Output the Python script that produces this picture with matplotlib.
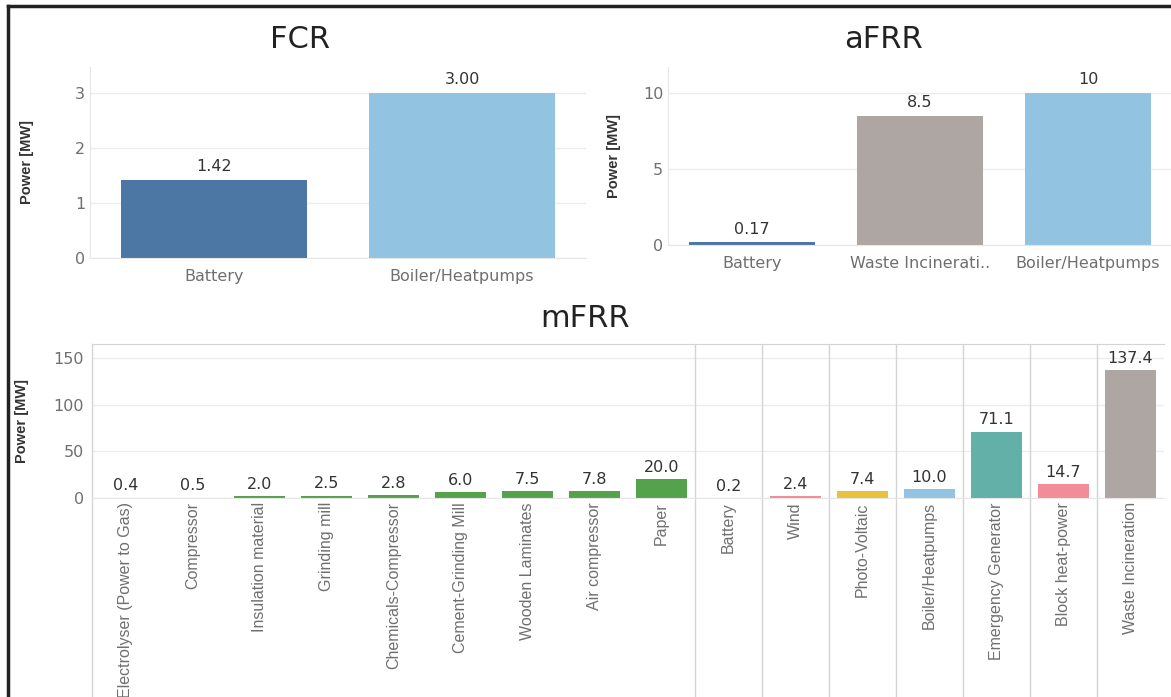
import matplotlib
matplotlib.use("Agg")
import matplotlib.pyplot as plt
from matplotlib.lines import Line2D

# data
fcr_labels = ["Battery", "Boiler/Heatpumps"]
fcr_values = [1.42, 3.00]
fcr_text = ["1.42", "3.00"]

afrr_labels = ["Battery", "Waste Incinerati..", "Boiler/Heatpumps"]
afrr_values = [0.17, 8.5, 10]
afrr_text = ["0.17", "8.5", "10"]

mfrr_labels = ["Electrolyser (Power to Gas)", "Compressor", "Insulation material",
               "Grinding mill", "Chemicals-Compressor", "Cement-Grinding Mill",
               "Wooden Laminates", "Air compressor", "Paper", "Battery", "Wind",
               "Photo-Voltaic", "Boiler/Heatpumps", "Emergency Generator",
               "Block heat-power", "Waste Incineration"]
mfrr_values = [0.4, 0.5, 2.0, 2.5, 2.8, 6.0, 7.5, 7.8, 20.0,
               0.2, 2.4, 7.4, 10.0, 71.1, 14.7, 137.4]

# colours
blue = "#4c77a4"
light_blue = "#92c3e1"
grey = "#aea6a2"
green = "#55a24c"
pink = "#f38c99"
yellow = "#e9c23d"
teal = "#62b0a7"

fcr_colors = [blue, light_blue]
afrr_colors = [blue, grey, light_blue]
mfrr_colors = [green] * 9 + [blue, pink, yellow, light_blue, teal, pink, grey]

narrow = ["Liberation Sans", "DejaVu Sans"]
tick_grey = "#6f6f6f"
grid_col = "#ececec"
line_col = "#d4d4d4"

W, H = 1171, 697
fig = plt.figure(figsize=(W / 100, H / 100), dpi=100)


def box(left, top, right, bottom):
    return [left / W, 1 - bottom / H, (right - left) / W, (bottom - top) / H]


def style(ax, ymax, yticks, label_x):
    ax.set_ylim(0, ymax)
    ax.set_yticks(yticks)
    ax.grid(axis="y", color=grid_col, linewidth=1)
    ax.set_axisbelow(True)
    for s in ["top", "right"]:
        ax.spines[s].set_visible(False)
    ax.spines["left"].set_color("#e6e6e6")
    ax.spines["bottom"].set_color("#e6e6e6")
    ax.tick_params(length=0, colors=tick_grey, labelsize=11.5)
    ax.set_ylabel("Power [MW]", family=narrow, fontweight="bold", fontsize=10.5, color="#333333")
    pos = ax.get_position()
    ax.yaxis.set_label_coords((label_x / W - pos.x0) / pos.width, 0.5)


# FCR
ax1 = fig.add_axes(box(90, 67, 586, 258))
x = range(len(fcr_values))
ax1.bar(x, fcr_values, width=0.75, color=fcr_colors)
ax1.set_xlim(-0.5, len(fcr_values) - 0.5)
ax1.set_xticks(list(x), fcr_labels)
style(ax1, 3.47, [0, 1, 2, 3], 34)
ax1.tick_params(axis="x", pad=8)
for i, v in enumerate(fcr_values):
    ax1.annotate(fcr_text[i], (i, v), xytext=(0, 4), textcoords="offset points",
                 ha="center", va="bottom", fontsize=11.5, color="#333333")
fig.text(300 / W, 1 - 40 / H, "FCR", ha="center", va="center", fontsize=22, color="#222222")

# aFRR
ax2 = fig.add_axes(box(668, 67, 1172, 245))
x = range(len(afrr_values))
ax2.bar(x, afrr_values, width=0.75, color=afrr_colors)
ax2.set_xlim(-0.5, len(afrr_values) - 0.5)
ax2.set_xticks(list(x), afrr_labels)
style(ax2, 11.7, [0, 5, 10], 621)
ax2.tick_params(axis="x", pad=8)
for i, v in enumerate(afrr_values):
    ax2.annotate(afrr_text[i], (i, v), xytext=(0, 4), textcoords="offset points",
                 ha="center", va="bottom", fontsize=11.5, color="#333333")
fig.text(884 / W, 1 - 40 / H, "aFRR", ha="center", va="center", fontsize=22, color="#222222")

# mFRR
ax3 = fig.add_axes(box(92, 344, 1164, 498))
x = range(len(mfrr_values))
ax3.bar(x, mfrr_values, width=0.76, color=mfrr_colors)
ax3.set_xlim(-0.5, len(mfrr_values) - 0.5)
ax3.set_xticks(list(x), mfrr_labels, rotation=90, va="top", family=narrow, fontsize=9.8)
style(ax3, 165, [0, 50, 100, 150], 29)
ax3.spines["top"].set_visible(True)
ax3.spines["top"].set_color(line_col)
ax3.spines["left"].set_visible(False)
ax3.tick_params(axis="x", pad=3)
ax3.tick_params(axis="y", pad=6)
for i, v in enumerate(mfrr_values):
    ax3.annotate(f"{v:.1f}", (i, v), xytext=(0, 3), textcoords="offset points",
                 ha="center", va="bottom", fontsize=11.5, color="#333333")
# pane separators running down through the label area
seps = [-0.5] + [i + 0.5 for i in range(8, 15)]
ext = (498 - H) / (498 - 344)
for s in seps:
    ax3.plot([s, s], [ext, 1], transform=ax3.get_xaxis_transform(),
             color=line_col, linewidth=1, clip_on=False)
fig.text(585 / W, 1 - 318 / H, "mFRR", ha="center", va="center", fontsize=22, color="#222222")

# black frame (left and top edges)
fig.add_artist(Line2D([8 / W, 8 / W], [0, 1 - 6 / H], color="#222222", linewidth=2.5))
fig.add_artist(Line2D([8 / W, 1], [1 - 6 / H, 1 - 6 / H], color="#222222", linewidth=2.5))

fig.savefig("out.png", dpi=100)
